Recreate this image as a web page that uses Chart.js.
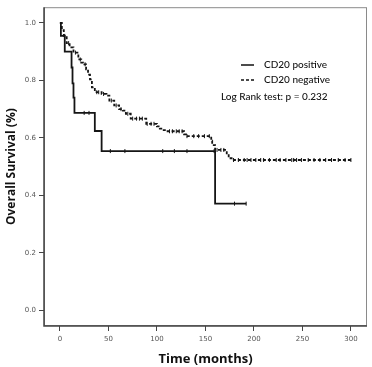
<!DOCTYPE html>
<html>
<head>
<meta charset="utf-8">
<script src="https://cdn.jsdelivr.net/npm/chart.js@4.4.1/dist/chart.umd.min.js"></script>
<style>
  html, body { margin: 0; padding: 0; background: #fff; }
  #wrap { width: 372px; height: 367px; }
</style>
</head>
<body>
<div id="wrap"><canvas id="kmChart"></canvas></div>
<script>
// Kaplan-Meier steps: event time (months) and survival after the event
const posTimes = [0, 1, 5, 12, 13, 14, 15, 36, 43, 160, 192];
const posSurv  = [1.0, 0.955, 0.90, 0.845, 0.79, 0.74, 0.687, 0.624, 0.554, 0.371, 0.371];
const posCensor = [25, 30, 52, 67, 106, 118, 131, 159, 180, 192];

const negTimes = [0, 2, 4, 7, 10, 14, 19, 22, 24, 27, 29, 31, 33, 36, 43, 48, 51, 56, 61, 65, 68, 73,
                  89, 100, 103, 106, 111, 128, 130, 156, 157, 160, 172, 174, 177, 300];
const negSurv  = [1.0, 0.975, 0.955, 0.93, 0.915, 0.897, 0.873, 0.862, 0.856, 0.839, 0.82, 0.804, 0.776,
                  0.759, 0.753, 0.747, 0.73, 0.713, 0.70, 0.695, 0.684, 0.667,
                  0.649, 0.64, 0.632, 0.627, 0.623, 0.612, 0.606, 0.59, 0.575, 0.558, 0.54, 0.529, 0.523, 0.523];
const negCensor = [5, 9, 16, 21, 26, 38, 40, 45, 53, 58, 63, 70, 75, 79, 82, 85, 90, 94, 97,
                   113, 116, 120, 123, 126, 131, 138, 143, 149, 154, 162, 166, 169,
                   179, 184, 190, 193, 197, 202, 207, 210, 216, 223, 227, 233, 239, 241, 244,
                   249, 256, 262, 268, 274, 280, 287, 294, 300];

const xTicks = [0, 50, 100, 150, 200, 250, 300];
const yTicks = [0, 0.2, 0.4, 0.6, 0.8, 1.0];

function survAt(times, surv, t) {
  let s = surv[0];
  for (let i = 0; i < times.length; i++) {
    if (times[i] <= t) s = surv[i];
  }
  return s;
}

function steps(times, surv) {
  return times.map((t, i) => ({ x: t, y: surv[i] }));
}

function censors(list, times, surv) {
  return list.map(t => ({ x: t, y: survAt(times, surv, t) }));
}

// box round the plot + legend inside it
const extras = {
  id: 'extras',
  afterDraw(chart) {
    const ctx = chart.ctx;
    const a = chart.chartArea;
    ctx.save();
    ctx.strokeStyle = '#8a8a8a';
    ctx.lineWidth = 1;
    ctx.strokeRect(a.left + 0.5, a.top + 0.5, a.right - a.left - 1, a.bottom - a.top - 1);
    ctx.strokeStyle = '#444';
    ctx.lineWidth = 1.5;
    ctx.beginPath();
    ctx.moveTo(a.left, a.top);
    ctx.lineTo(a.left, a.bottom);
    ctx.lineTo(a.right, a.bottom);
    ctx.stroke();

    // legend
    ctx.strokeStyle = '#111';
    ctx.lineWidth = 1.5;
    ctx.beginPath();
    ctx.moveTo(241, 65);
    ctx.lineTo(254, 65);
    ctx.stroke();
    ctx.setLineDash([3, 2]);
    ctx.beginPath();
    ctx.moveTo(241, 80);
    ctx.lineTo(255, 80);
    ctx.stroke();
    ctx.setLineDash([]);
    ctx.fillStyle = '#111';
    ctx.font = '500 10px Lato';
    ctx.textBaseline = 'middle';
    ctx.textAlign = 'left';
    ctx.fillText('CD20 positive', 264, 65);
    ctx.fillText('CD20 negative', 264, 80);
    ctx.fillText('Log Rank test: p = 0.232', 221, 97);
    ctx.restore();
  }
};

const ctx = document.getElementById('kmChart').getContext('2d');
const chart = new Chart(ctx, {
  type: 'line',
  data: {
    datasets: [
      {
        label: 'CD20 positive',
        data: steps(posTimes, posSurv),
        stepped: true,
        borderColor: '#151515',
        borderWidth: 1.8,
        pointRadius: 0,
        fill: false
      },
      {
        label: 'CD20 negative',
        data: steps(negTimes, negSurv),
        stepped: true,
        borderColor: '#151515',
        borderWidth: 1.8,
        borderDash: [3, 2],
        pointRadius: 0,
        fill: false
      },
      {
        label: 'positive censored',
        data: censors(posCensor, posTimes, posSurv),
        showLine: false,
        pointStyle: 'line',
        rotation: 90,
        pointRadius: 2,
        borderColor: '#151515',
        borderWidth: 1
      },
      {
        label: 'negative censored',
        data: censors(negCensor, negTimes, negSurv),
        showLine: false,
        pointStyle: 'line',
        rotation: 90,
        pointRadius: 2,
        borderColor: '#151515',
        borderWidth: 1
      }
    ]
  },
  options: {
    responsive: true,
    maintainAspectRatio: false,
    animation: false,
    layout: { padding: { top: 3, right: 3, left: 0, bottom: 0 } },
    plugins: {
      legend: { display: false },
      tooltip: { enabled: false }
    },
    scales: {
      x: {
        type: 'linear',
        min: -16.4,
        max: 316.6,
        afterBuildTicks: s => { s.ticks = xTicks.map(v => ({ value: v })); },
        afterFit: s => { s.height = 41; },
        border: { display: false },
        grid: { drawOnChartArea: false, drawTicks: true, tickLength: 5, color: '#444', tickWidth: 1 },
        ticks: { color: '#555', font: { family: 'DejaVu Sans', size: 7 }, padding: 4, maxRotation: 0 },
        title: {
          display: true,
          text: 'Time (months)',
          color: '#111',
          font: { family: 'Open Sans', size: 13, weight: 'bold' },
          padding: { top: 2, bottom: 0 }
        }
      },
      y: {
        type: 'linear',
        min: -0.055,
        max: 1.055,
        afterBuildTicks: s => { s.ticks = yTicks.map(v => ({ value: v })); },
        afterFit: s => { s.width = 44; },
        border: { display: false },
        grid: { drawOnChartArea: false, drawTicks: true, tickLength: 5, color: '#444', tickWidth: 1 },
        ticks: {
          color: '#555',
          font: { family: 'DejaVu Sans', size: 7 },
          padding: 3,
          callback: v => v.toFixed(1)
        },
        title: {
          display: true,
          text: 'Overall Survival (%)',
          color: '#111',
          font: { family: 'Open Sans', size: 12, weight: 'bold' },
          padding: { top: 4, bottom: 0 }
        }
      }
    }
  },
  plugins: [extras]
});
</script>
</body>
</html>
